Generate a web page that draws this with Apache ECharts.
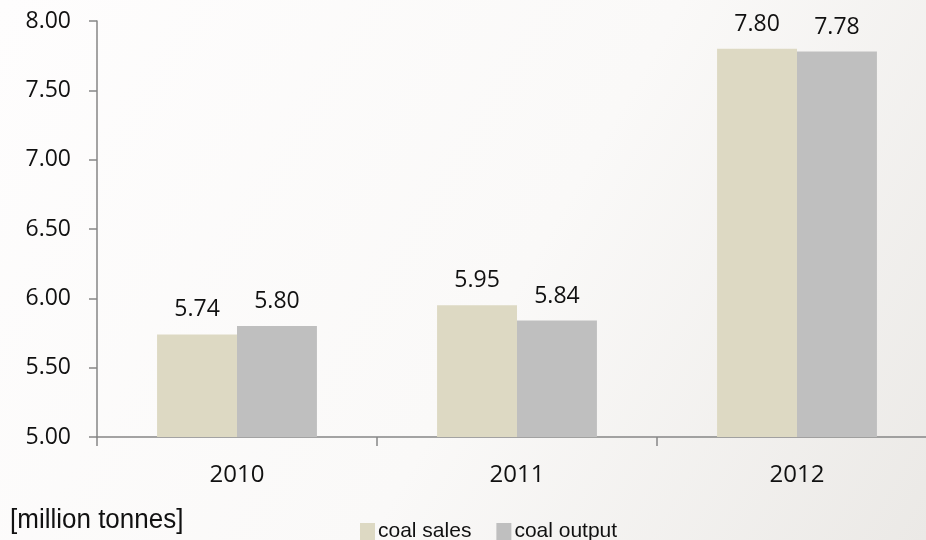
<!DOCTYPE html>
<html>
<head>
<meta charset="utf-8">
<script src="https://cdn.jsdelivr.net/npm/echarts@6/dist/echarts.min.js"></script>
<style>
  html, body { margin: 0; padding: 0; }
  #chart { width: 926px; height: 540px; }
</style>
</head>
<body>
<div id="chart"></div>
<script>
// Coal sales vs coal output, million tonnes
const years = ['2010', '2011', '2012'];
const coalSales = [5.74, 5.95, 7.80];
const coalOutput = [5.80, 5.84, 7.78];
const seriesNames = ['coal sales', 'coal output'];
const unitLabel = '[million tonnes]';

const numFont = '"Open Sans", sans-serif';
const textFont = '"Liberation Sans", sans-serif';

const chart = echarts.init(document.getElementById('chart'), null, { renderer: 'canvas' });

const valueLabel = {
  show: true,
  position: 'top',
  distance: 13,
  color: '#111',
  fontFamily: numFont,
  fontSize: 23,
  formatter: p => p.value.toFixed(2)
};

chart.setOption({
  animation: false,
  backgroundColor: {
    type: 'linear', x: 0, y: 0, x2: 1, y2: 1,
    colorStops: [
      { offset: 0, color: '#fefdfd' },
      { offset: 0.55, color: '#faf9f8' },
      { offset: 1, color: '#ebe9e6' }
    ]
  },
  grid: { left: 97, top: 21, width: 840, height: 416, outerBoundsMode: 'none' },
  legend: {
    left: 355,
    top: 516,
    itemWidth: 15,
    itemHeight: 17,
    itemGap: 25,
    icon: 'rect',
    textStyle: { fontFamily: textFont, fontSize: 21, color: '#111', padding: [0, 0, 0, -2] },
    data: seriesNames
  },
  xAxis: {
    type: 'category',
    data: years,
    axisLine: { lineStyle: { color: '#868686', width: 1.5 } },
    axisTick: { show: true, length: 9, lineStyle: { color: '#868686', width: 1.5 } },
    axisLabel: { margin: 26, color: '#111', fontFamily: numFont, fontSize: 24 },
    splitLine: { show: false }
  },
  yAxis: {
    type: 'value',
    min: 5,
    max: 8,
    interval: 0.5,
    axisLine: { show: true, lineStyle: { color: '#868686', width: 1.5 } },
    axisTick: { show: true, length: 8, lineStyle: { color: '#868686', width: 1.5 } },
    axisLabel: {
      margin: 26, color: '#111', fontFamily: numFont, fontSize: 23,
      formatter: v => v.toFixed(2)
    },
    splitLine: { show: false }
  },
  series: [
    {
      name: seriesNames[0],
      type: 'bar',
      data: coalSales,
      barGap: '0%',
      barCategoryGap: '42.9%',
      itemStyle: { color: '#ddd9c3' },
      label: valueLabel
    },
    {
      name: seriesNames[1],
      type: 'bar',
      data: coalOutput,
      itemStyle: { color: '#bfbfbf' },
      label: valueLabel
    }
  ],
  graphic: [
    {
      type: 'text',
      left: 10,
      top: 506,
      scaleY: 1.08,
      style: { text: unitLabel, fontFamily: textFont, fontSize: 26, fill: '#111' }
    }
  ]
});
</script>
</body>
</html>
